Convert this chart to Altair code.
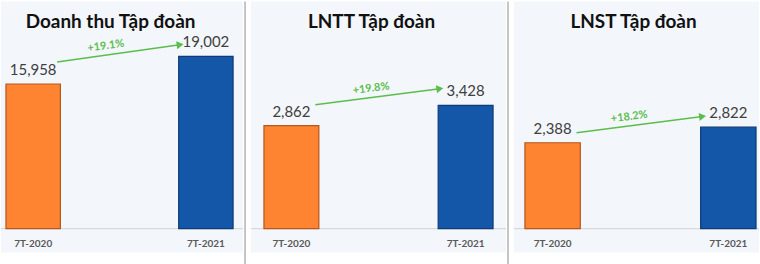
import math
import altair as alt
import pandas as pd

# ---- data ----
titles = ["Doanh thu Tập đoàn", "LNTT Tập đoàn", "LNST Tập đoàn"]
periods = ["7T-2020", "7T-2021"]
values_2020 = [15958, 2862, 2388]
values_2021 = [19002, 3428, 2822]
growth_labels = ["+19.1%", "+19.8%", "+18.2%"]

# ---- styles ----
ORANGE = "#FF8432"
ORANGE_EDGE = "#B5561A"
BLUE = "#1457A8"
BLUE_EDGE = "#0C3B77"
GREEN = "#5BBE4C"
BG = "#F3F6FB"
FONT = "Lato"
H = 252
BASE = 228
PAD_INNER = 0.685

layout = [
    dict(width=243, xrange=[5, 233], px=0.0091, title_x=110, s=-22, e=-12, lx=73, sep=True),
    dict(width=256, xrange=[13, 243], px=0.0361, title_x=121, s=-21, e=-17, lx=80, sep=True),
    dict(width=246, xrange=[11, 243], px=0.0361, title_x=120, s=-10, e=-11, lx=77, sep=False),
]


def panel(i, g):
    v1, v2 = values_2020[i], values_2021[i]
    bars = pd.DataFrame({
        "period": periods,
        "value": [v1, v2],
        "label": [f"{v1:,}", f"{v2:,}"],
    })
    pair = pd.DataFrame({
        "p1": [periods[0]], "p2": [periods[1]],
        "v1": [v1], "v2": [v2],
        "growth": [growth_labels[i]], "title": [titles[i]],
    })
    k = g["px"]
    yscale = alt.Scale(domain=[-(H - BASE) / k, BASE / k], nice=False, zero=False)
    xscale = alt.Scale(domain=periods, range=g["xrange"], paddingInner=PAD_INNER, paddingOuter=0)

    # geometry of arrow / growth label (pixel offsets)
    r0, r1 = g["xrange"]
    step = (r1 - r0) / (2 - PAD_INNER)
    top1 = BASE - v1 * k
    top2 = BASE - v2 * k
    ys, ye = top1 + g["s"], top2 + g["e"]
    xs, xe = 24, step - 23
    theta = math.degrees(math.atan2(ys - ye, xe - xs))
    f = (g["lx"] - xs) / (xe - xs)
    y_lab = ys + f * (ye - ys) - 9

    base = alt.Chart(bars)
    X = alt.X("period:N", scale=xscale, axis=None)
    Y = alt.Y("value:Q", scale=yscale, axis=None)

    bar = base.mark_bar(strokeWidth=1.2).encode(
        x=X, y=Y, y2=alt.datum(0),
        fill=alt.Fill("period:N", scale=alt.Scale(domain=periods, range=[ORANGE, BLUE]), legend=None),
        stroke=alt.Stroke("period:N", scale=alt.Scale(domain=periods, range=[ORANGE_EDGE, BLUE_EDGE]), legend=None),
    )
    baseline = alt.Chart(pair).mark_rule(color="#D9D9D9", strokeWidth=1.5).encode(
        x=alt.value(0), x2=alt.value(g["width"]), y=alt.Y(datum=0, scale=yscale, axis=None)
    )
    vals = base.mark_text(dy=-14, fontSize=15, color="#404040", font=FONT, baseline="middle").encode(
        x=X, y=Y, text="label:N"
    )
    cats = base.mark_text(dy=15, fontSize=10, fontWeight="bold", color="#595959", font=FONT,
                          baseline="middle").encode(
        x=X, y=alt.Y(datum=0, scale=yscale, axis=None), text="period:N"
    )
    arrow = alt.Chart(pair).mark_rule(color=GREEN, strokeWidth=1.6, xOffset=24, x2Offset=-28,
                                      yOffset=g["s"], y2Offset=g["e"] + 0.6).encode(
        x=alt.X("p1:N", scale=xscale, axis=None), x2="p2:N",
        y=alt.Y("v1:Q", scale=yscale, axis=None), y2="v2:Q",
    )
    head = alt.Chart(pair).mark_point(shape="triangle", filled=True, size=64, opacity=1,
                                      color=GREEN, angle=round(90 - theta, 1),
                                      xOffset=-27, yOffset=g["e"] + 0.5).encode(
        x=alt.X("p2:N", scale=xscale, axis=None), y=alt.Y("v2:Q", scale=yscale, axis=None)
    )
    pct = alt.Chart(pair).mark_text(color=GREEN, fontSize=11, fontWeight="bold", font=FONT,
                                    baseline="middle", align="center",
                                    angle=round(360 - theta, 1),
                                    xOffset=g["lx"], yOffset=round(y_lab - top1, 1)).encode(
        x=alt.X("p1:N", scale=xscale, axis=None), y=alt.Y("v1:Q", scale=yscale, axis=None),
        text="growth:N"
    )
    title = alt.Chart(pair).mark_text(fontSize=19, fontWeight="bold", font=FONT, color="#111111",
                                      baseline="middle", align="center").encode(
        x=alt.value(g["title_x"]), y=alt.value(21), text="title:N"
    )
    layers = [baseline, bar, vals, cats, arrow, head, pct, title]
    if g["sep"]:
        sep = alt.Chart(pair).mark_rule(color="#9E9E9E", strokeWidth=1.2).encode(
            x=alt.value(g["width"] + 2), y=alt.value(0), y2=alt.value(264)
        )
        layers.append(sep)
    return alt.layer(*layers).properties(width=g["width"], height=H)


chart = alt.hconcat(*[panel(i, g) for i, g in enumerate(layout)], spacing=4).properties(
    padding=0, background="white"
).configure_view(fill=BG, strokeWidth=0)

chart.save("out.html", embed_options={"renderer": "svg", "actions": False})
